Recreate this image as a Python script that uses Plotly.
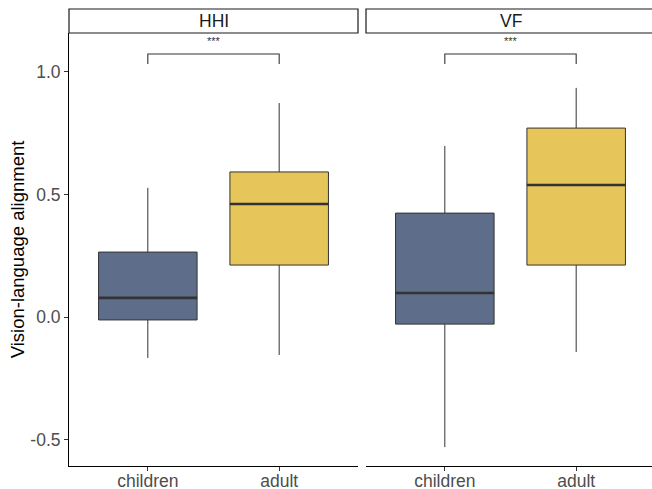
import plotly.graph_objects as go

panels = ["HHI", "VF"]
groups = ["children", "adult"]
colors = ["#5E6E8A", "#E6C55A"]

# [children, adult] per panel
lower = {"HHI": [-0.167, -0.155], "VF": [-0.531, -0.143]}
q1 = {"HHI": [-0.012, 0.212], "VF": [-0.029, 0.212]}
median = {"HHI": [0.078, 0.461], "VF": [0.098, 0.539]}
q3 = {"HHI": [0.265, 0.592], "VF": [0.424, 0.771]}
upper = {"HHI": [0.527, 0.873], "VF": [0.698, 0.935]}
signif = {"HHI": "***", "VF": "***"}
bracket_y = 1.073
bracket_drop = 0.04

ytick_vals = [-0.5, 0.0, 0.5, 1.0]
ytick_text = ["-0.5", "0.0", "0.5", "1.0"]

FONT = "Liberation Sans, Arial, sans-serif"
BW = 0.75

fig = go.Figure()
for pi, p in enumerate(panels):
    xa = "x" if pi == 0 else "x2"
    ya = "y" if pi == 0 else "y2"
    for gi, g in enumerate(groups):
        fig.add_trace(go.Box(
            x=[gi], q1=[q1[p][gi]], median=[median[p][gi]], q3=[q3[p][gi]],
            lowerfence=[lower[p][gi]], upperfence=[upper[p][gi]],
            width=BW, whiskerwidth=0, boxpoints=False,
            fillcolor=colors[gi], line=dict(color="#333333", width=1),
            xaxis=xa, yaxis=ya, showlegend=False, hoverinfo="skip"))
        # thicker median line (ggplot fatten)
        fig.add_trace(go.Scatter(
            x=[gi - BW / 2, gi + BW / 2], y=[median[p][gi]] * 2, mode="lines",
            line=dict(color="#333333", width=2.6), xaxis=xa, yaxis=ya,
            showlegend=False, hoverinfo="skip"))
    # significance bracket
    fig.add_trace(go.Scatter(
        x=[0, 0, 1, 1],
        y=[bracket_y - bracket_drop, bracket_y, bracket_y, bracket_y - bracket_drop],
        mode="lines", line=dict(color="#333333", width=1.1),
        xaxis=xa, yaxis=ya, showlegend=False, hoverinfo="skip"))
    fig.add_annotation(x=0.5, y=bracket_y + 0.02, xref=xa, yref=ya, text=signif[p],
                       showarrow=False, yanchor="bottom", xanchor="center",
                       font=dict(family=FONT, size=11, color="#333333"))

# the right facet panel runs slightly past the window edge, as in the reference
W, H = 656, 489
ml, mr, mt, mb = 69, 1, 33, 23
pw = W - ml - mr
ph = H - mt - mb
d1 = [0, 289 / pw]
d2 = [297 / pw, 1]

xcommon = dict(range=[-0.6, 1.6], tickvals=[0, 1], ticktext=groups,
               showline=True, linecolor="black", linewidth=1, ticks="outside",
               ticklen=4, tickcolor="#333333", showgrid=False, zeroline=False,
               ticklabelstandoff=-5,
               tickfont=dict(family=FONT, size=17.5, color="#4D4D4D"), fixedrange=True)
fig.update_layout(
    width=W, height=H, margin=dict(l=ml, r=mr, t=mt, b=mb, autoexpand=False),
    paper_bgcolor="white", plot_bgcolor="white",
    xaxis=dict(domain=d1, anchor="y", **xcommon),
    xaxis2=dict(domain=d2, anchor="y2", **xcommon),
    yaxis=dict(range=[-0.608, 1.159], tickvals=ytick_vals, ticktext=ytick_text,
               showline=True, linecolor="black", linewidth=1, ticks="outside",
               ticklen=4, tickcolor="#333333", showgrid=False, zeroline=False,
               tickfont=dict(family=FONT, size=17.5, color="#4D4D4D"),
               title=dict(text="Vision-language alignment", standoff=0,
                          font=dict(family=FONT, size=18.5, color="black"))),
    yaxis2=dict(range=[-0.608, 1.159], anchor="x2", matches="y", showline=False,
                showticklabels=False, ticks="", showgrid=False, zeroline=False),
    showlegend=False,
)

# facet strips
strip_h = 24 / ph
for d, p in zip([d1, d2], panels):
    fig.add_shape(type="rect", xref="paper", yref="paper", x0=d[0], x1=d[1],
                  y0=1, y1=1 + strip_h, line=dict(color="#1A1A1A", width=1.2),
                  fillcolor="white")
    fig.add_annotation(xref="paper", yref="paper", x=(d[0] + d[1]) / 2,
                       y=1 + strip_h / 2, text=p, showarrow=False,
                       xanchor="center", yanchor="middle",
                       font=dict(family=FONT, size=17.5, color="#1A1A1A"))

fig.write_html("out.html", config={"displayModeBar": False},
               post_script="document.body.style.margin='0';document.body.style.overflow='hidden';")
